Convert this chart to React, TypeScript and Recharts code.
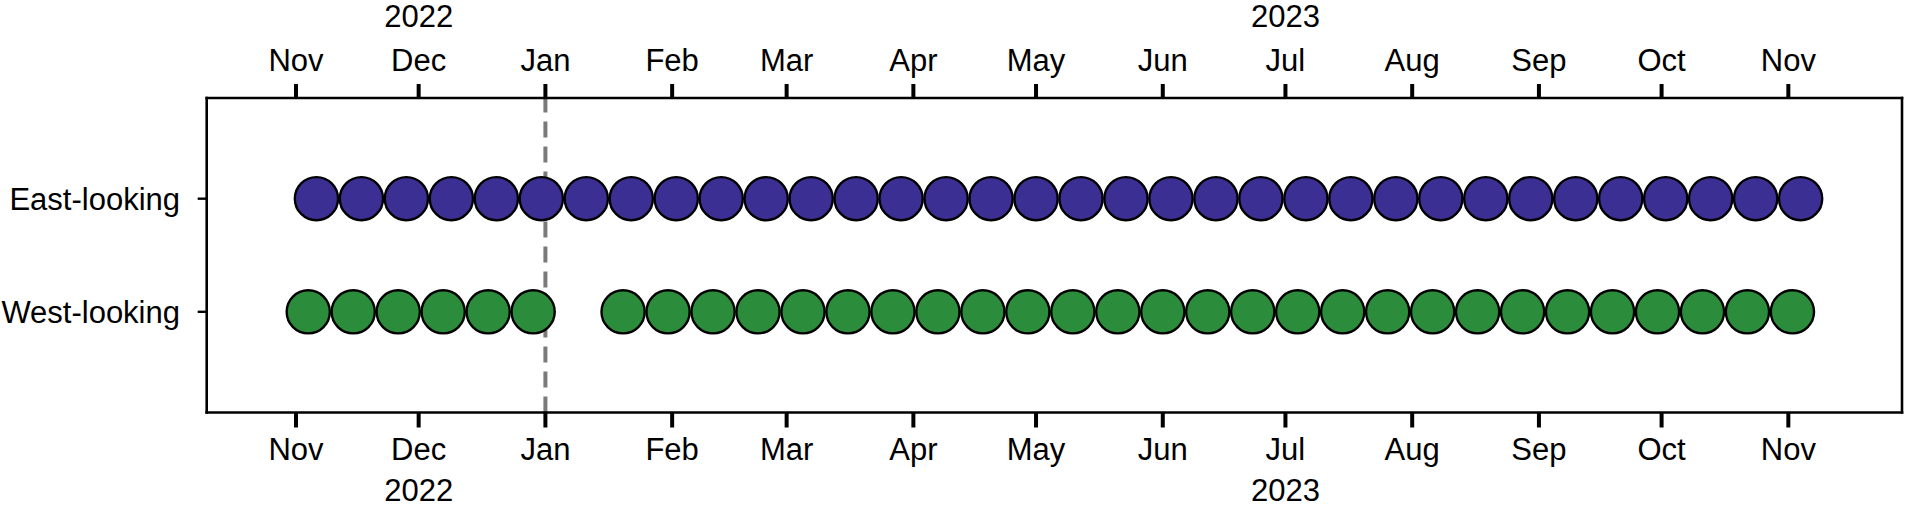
import React from 'react';
import { ScatterChart, Scatter, XAxis, YAxis, ReferenceLine } from 'recharts';

const toDay = (s: string): number => {
  const [y, m, d] = s.split('-').map(Number);
  return Date.UTC(y, m - 1, d) / 86400000;
};

const MONTH_TICKS = [
  '2022-11-01', '2022-12-01', '2023-01-01', '2023-02-01', '2023-03-01', '2023-04-01', '2023-05-01',
  '2023-06-01', '2023-07-01', '2023-08-01', '2023-09-01', '2023-10-01', '2023-11-01',
];
const MONTH_LABELS = ['Nov', 'Dec', 'Jan', 'Feb', 'Mar', 'Apr', 'May', 'Jun', 'Jul', 'Aug', 'Sep', 'Oct', 'Nov'];
const YEAR_TICKS = ['2022-12-01', '2023-07-01'];
const YEAR_LABELS = ['2022', '2023'];

const ROW_VALUES = [2, 1];
const ROW_LABELS = ['East-looking', 'West-looking'];

const EAST_DATES = [
  '2022-11-06', '2022-11-17', '2022-11-28', '2022-12-09', '2022-12-20', '2022-12-31', '2023-01-11',
  '2023-01-22', '2023-02-02', '2023-02-13', '2023-02-24', '2023-03-07', '2023-03-18', '2023-03-29',
  '2023-04-09', '2023-04-20', '2023-05-01', '2023-05-12', '2023-05-23', '2023-06-03', '2023-06-14',
  '2023-06-25', '2023-07-06', '2023-07-17', '2023-07-28', '2023-08-08', '2023-08-19', '2023-08-30',
  '2023-09-10', '2023-09-21', '2023-10-02', '2023-10-13', '2023-10-24', '2023-11-04',
];
const WEST_DATES = [
  '2022-11-04', '2022-11-15', '2022-11-26', '2022-12-07', '2022-12-18', '2022-12-29',
  '2023-01-20', '2023-01-31', '2023-02-11', '2023-02-22', '2023-03-05', '2023-03-16', '2023-03-27',
  '2023-04-07', '2023-04-18', '2023-04-29', '2023-05-10', '2023-05-21', '2023-06-01', '2023-06-12',
  '2023-06-23', '2023-07-04', '2023-07-15', '2023-07-26', '2023-08-06', '2023-08-17', '2023-08-28',
  '2023-09-08', '2023-09-19', '2023-09-30', '2023-10-11', '2023-10-22', '2023-11-02',
];

const DIVIDER_DATE = '2023-01-01';
const X_START = '2022-10-10';
const X_END = '2023-11-28';

const EAST_COLOR = '#3c2f94';
const WEST_COLOR = '#2b8c3b';
const FONT = '"Liberation Sans", Arial, Helvetica, sans-serif';
const FONT_SIZE = 31;

const monthTickDays = MONTH_TICKS.map(toDay);
const yearTickDays = YEAR_TICKS.map(toDay);
const eastData = EAST_DATES.map((d) => ({ x: toDay(d), y: ROW_VALUES[0] }));
const westData = WEST_DATES.map((d) => ({ x: toDay(d), y: ROW_VALUES[1] }));
const xDomain: [number, number] = [toDay(X_START) + 0.16, toDay(X_END) + 0.8];

const PLOT_TOP = 98;
const PLOT_BOTTOM = 412.5;

const makeXTick = (side: 'top' | 'bottom') => (props: any) => {
  const { x, payload } = props;
  const i = monthTickDays.indexOf(payload.value);
  const yi = yearTickDays.indexOf(payload.value);
  const monthY = side === 'top' ? PLOT_TOP - 27 : PLOT_BOTTOM + 47;
  const yearY = side === 'top' ? PLOT_TOP - 71 : PLOT_BOTTOM + 88;
  return (
    <g>
      <text x={x} y={monthY} textAnchor="middle" fontFamily={FONT} fontSize={FONT_SIZE} fill="#000">
        {i >= 0 ? MONTH_LABELS[i] : ''}
      </text>
      {yi >= 0 && (
        <text x={x} y={yearY} textAnchor="middle" fontFamily={FONT} fontSize={FONT_SIZE} fill="#000">
          {YEAR_LABELS[yi]}
        </text>
      )}
    </g>
  );
};

const YTick = (props: any) => {
  const { y, payload } = props;
  const i = ROW_VALUES.indexOf(payload.value);
  return (
    <text x={180} y={y + 11.5} textAnchor="end" fontFamily={FONT} fontSize={FONT_SIZE} fill="#000">
      {i >= 0 ? ROW_LABELS[i] : ''}
    </text>
  );
};

const makeDot = (color: string) => (p: any) => (
  <circle cx={p.cx} cy={p.cy} r={21.6} fill={color} stroke="#000" strokeWidth={2.4} />
);

const axisLine = { stroke: '#000', strokeWidth: 2.6, strokeLinecap: 'square' as const };

export default function App() {
  return (
    <div style={{ position: 'absolute', left: 0, top: 0, width: 1913, height: 508, background: '#fff' }}>
      <ScatterChart width={1913} height={508} margin={{ top: 0, right: 0, bottom: 0, left: 6.7 }}>
        <XAxis
          xAxisId="top"
          orientation="top"
          type="number"
          dataKey="x"
          domain={xDomain}
          ticks={monthTickDays}
          interval={0}
          allowDataOverflow
          height={PLOT_TOP}
          tickSize={14}
          axisLine={axisLine}
          tickLine={{ stroke: '#000', strokeWidth: 4 }}
          tick={makeXTick('top')}
        />
        <XAxis
          xAxisId="bottom"
          orientation="bottom"
          type="number"
          dataKey="x"
          domain={xDomain}
          ticks={monthTickDays}
          interval={0}
          allowDataOverflow
          height={508 - PLOT_BOTTOM}
          tickSize={15}
          axisLine={axisLine}
          tickLine={{ stroke: '#000', strokeWidth: 4 }}
          tick={makeXTick('bottom')}
        />
        <YAxis
          yAxisId="left"
          orientation="left"
          type="number"
          dataKey="y"
          domain={[0.11, 2.89]}
          ticks={ROW_VALUES}
          interval={0}
          allowDataOverflow
          width={200}
          tickSize={9}
          axisLine={axisLine}
          tickLine={{ stroke: '#000', strokeWidth: 2.4 }}
          tick={YTick}
        />
        <YAxis
          yAxisId="right"
          orientation="right"
          type="number"
          dataKey="y"
          domain={[0.11, 2.89]}
          ticks={ROW_VALUES}
          interval={0}
          allowDataOverflow
          width={11}
          tickSize={10}
          axisLine={axisLine}
          tickLine={{ stroke: '#000', strokeWidth: 2.4 }}
          tick={false}
        />
        <ReferenceLine
          x={toDay(DIVIDER_DATE)}
          xAxisId="bottom"
          yAxisId="left"
          stroke="#7a7a7a"
          strokeWidth={4}
          strokeDasharray="16 9"
          zIndex={100}
        />
        <Scatter
          name="East-looking"
          data={eastData}
          xAxisId="bottom"
          yAxisId="left"
          shape={makeDot(EAST_COLOR)}
          isAnimationActive={false}
          zIndex={600}
        />
        <Scatter
          name="West-looking"
          data={westData}
          xAxisId="bottom"
          yAxisId="left"
          shape={makeDot(WEST_COLOR)}
          isAnimationActive={false}
          zIndex={600}
        />
      </ScatterChart>
    </div>
  );
}
